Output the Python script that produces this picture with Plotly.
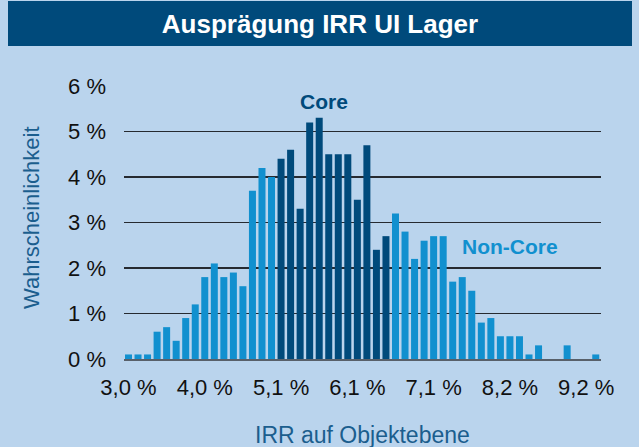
import plotly.graph_objects as go

# ---- data ----
irr_start = 3.0
irr_step = 6.2 / 48          # bin width in % (ticks every 8 bins)
probabilities = [0.1, 0.1, 0.1, 0.6, 0.7, 0.4, 0.9, 1.2, 1.8, 2.1, 1.8, 1.9, 1.6, 3.7, 4.2, 4.0,
                 4.4, 4.6, 3.3, 5.2, 5.3, 4.5, 4.5, 4.5, 3.5, 4.7, 2.4, 2.7,
                 3.2, 2.8, 2.2, 2.6, 2.7, 2.7, 1.7, 1.8, 1.5, 0.8, 0.9, 0.5, 0.5, 0.5, 0.1, 0.3,
                 0.0, 0.0, 0.3, 0.0, 0.0, 0.1]
segments = ["Non-Core"] * 16 + ["Core"] * 12 + ["Non-Core"] * 22
irr_bins = [irr_start + i * irr_step for i in range(len(probabilities))]
x_tick_labels = ["3,0 %", "4,0 %", "5,1 %", "6,1 %", "7,1 %", "8,2 %", "9,2 %"]
y_ticks = [0, 1, 2, 3, 4, 5, 6]
y_tick_labels = ["0 %", "1 %", "2 %", "3 %", "4 %", "5 %", "6 %"]

DARK = "#004a7b"
LIGHT = "#1190cf"
BG = "#bad4ed"
FONT = "Arial, Liberation Sans, sans-serif"

fig = go.Figure()
for seg, col in [("Non-Core", LIGHT), ("Core", DARK)]:
    xs = [x for x, s in zip(irr_bins, segments) if s == seg]
    ys = [y for y, s in zip(probabilities, segments) if s == seg]
    fig.add_trace(go.Bar(x=xs, y=ys, name=seg, marker=dict(color=col, line=dict(width=0)),
                         width=irr_step * 0.734, hoverinfo="skip"))

W, H = 639, 447
L, R, T, B = 124, 38, 86, 88
pw, ph = W - L - R, H - T - B

def px_x(p):
    return (p - L) / pw

def px_y(p):
    return (H - B - p) / ph

fig.update_layout(
    width=W, height=H,
    margin=dict(l=L, r=R, t=T, b=B),
    paper_bgcolor=BG, plot_bgcolor=BG,
    barmode="overlay",
    showlegend=False,
    font=dict(family=FONT, size=22, color="#111111"),
    title=dict(text="<b>Ausprägung IRR UI Lager</b>", x=320 / W, xref="container", xanchor="center",
               y=1 - 24 / H, yref="container", yanchor="middle",
               font=dict(family=FONT, size=26, color="white")),
    xaxis=dict(range=[irr_start - 0.47 * irr_step, irr_start + 49.55 * irr_step],
               tickvals=irr_bins[::8], ticktext=x_tick_labels,
               showgrid=False, zeroline=False,
               showline=True, linecolor="#58606a", linewidth=2,
               ticks="", ticklabelstandoff=8,
               tickfont=dict(size=22, color="#111111")),
    yaxis=dict(range=[0, 6], tickvals=y_ticks, ticktext=y_tick_labels,
               showgrid=True, gridcolor="#262a30", gridwidth=1.5,
               zeroline=False, showline=False, ticks="", ticklabelstandoff=17,
               tickfont=dict(size=22, color="#111111")),
    shapes=[dict(type="rect", xref="paper", yref="paper",
                 x0=px_x(8), x1=px_x(632), y0=px_y(46), y1=px_y(1),
                 fillcolor=DARK, line=dict(width=0), layer="below")],
    annotations=[
        dict(text="Wahrscheinlichkeit", xref="paper", yref="paper", x=px_x(31.5), y=px_y(217.5),
             textangle=-90, showarrow=False, xanchor="center", yanchor="middle",
             font=dict(family=FONT, size=22, color="#1b5e8e")),
        dict(text="IRR auf Objektebene", xref="paper", yref="paper", x=px_x(362), y=px_y(434.5),
             showarrow=False, xanchor="center", yanchor="middle",
             font=dict(family=FONT, size=23, color="#1b5e8e")),
        dict(text="<b>Core</b>", xref="x", yref="y", x=irr_start + 20.48 * irr_step, y=5.66,
             showarrow=False, xanchor="center", yanchor="middle",
             font=dict(family=FONT, size=21, color=DARK)),
        dict(text="<b>Non-Core</b>", xref="x", yref="y", x=irr_start + 40.0 * irr_step, y=2.48,
             showarrow=False, xanchor="center", yanchor="middle",
             font=dict(family=FONT, size=21, color=LIGHT)),
    ],
)

fig.write_html("out.html",
               config={"displayModeBar": False, "staticPlot": True},
               post_script="document.body.style.margin='0';document.body.style.padding='0';"
                           "document.body.style.overflow='hidden';"
                           "document.body.style.background='" + BG + "';")
